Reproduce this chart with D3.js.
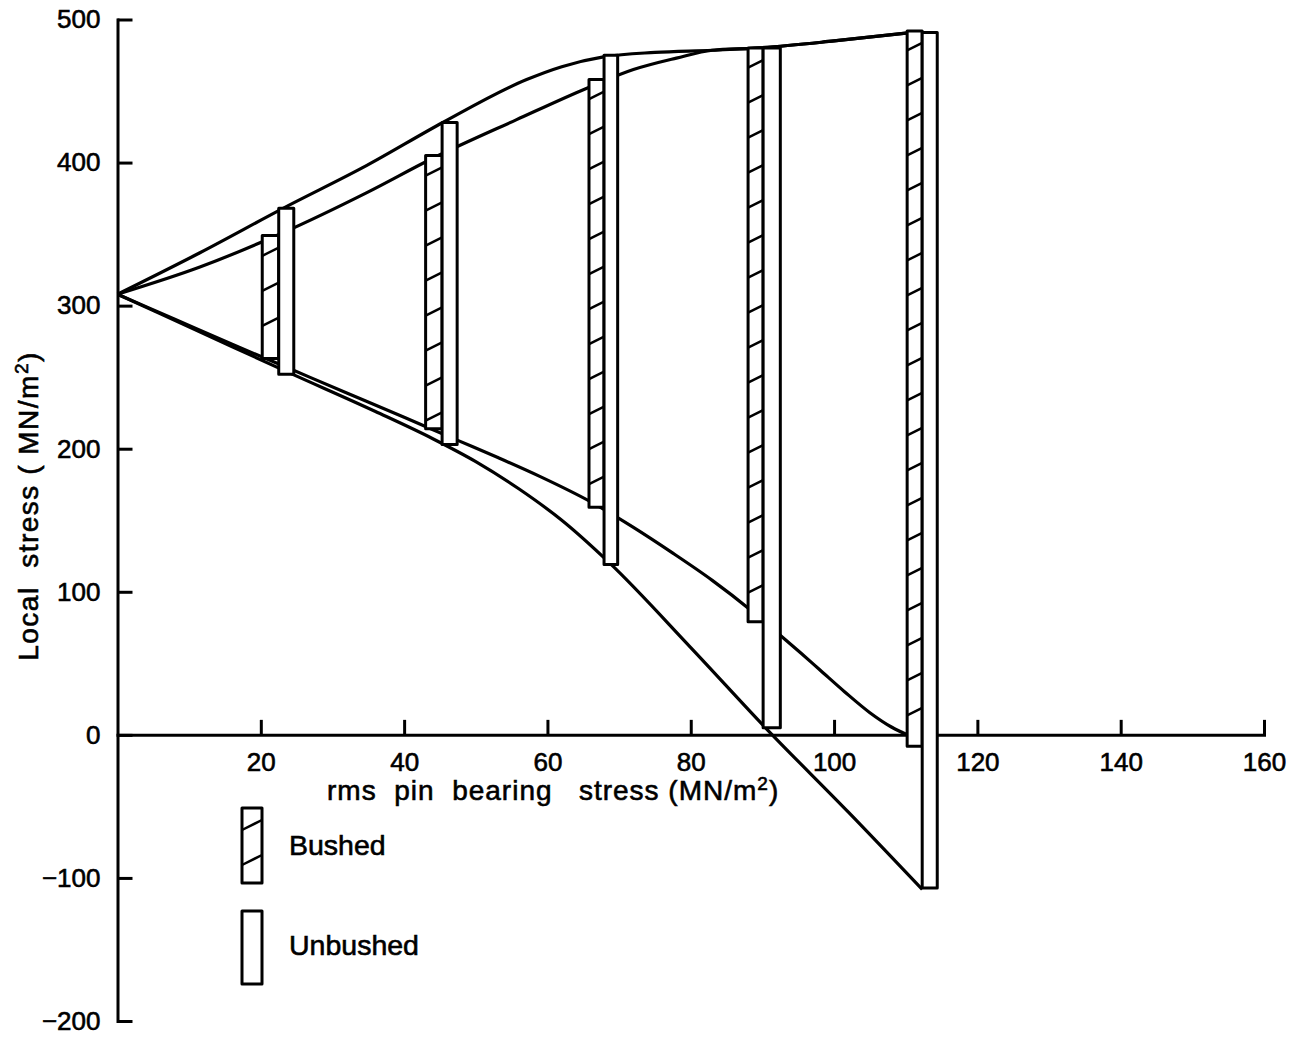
<!DOCTYPE html>
<html>
<head>
<meta charset="utf-8">
<script src="https://cdn.jsdelivr.net/npm/d3@7"></script>
<style>
  body { margin: 0; background: #fff; }
  svg { display: block; font-family: "Liberation Sans", Arial, sans-serif; }
  svg text { stroke: #000; stroke-width: 0.6; }
  .axis path, .axis line { stroke: #000; stroke-width: 3; }
  .axis text { font-size: 26px; fill: #000; }
</style>
</head>
<body>
<svg width="1299" height="1042"></svg>
<script>
// tick values
const xTicks = [20, 40, 60, 80, 100, 120, 140, 160];
const yTicks = [-200, -100, 0, 100, 200, 300, 400, 500];

// scatter bands: [x0, x1, low, high]
const bushed = [
    [20.2, 22.5, 263, 349],
    [43.0, 45.3, 214, 405],
    [65.8, 67.9, 159, 458],
    [88.0, 90.1, 79, 480],
    [110.2, 112.3, -8, 492]
];
const unbushed = [
    [22.5, 24.6, 252, 368],
    [45.3, 47.4, 203, 428],
    [67.9, 69.8, 119, 475],
    [90.1, 92.5, 5, 480],
    [112.3, 114.4, -107, 491]
];

// envelope curves [rms stress, local stress]
const unbushedMax = [[0, 308], [11.5, 337], [23.1, 368], [34.8, 398], [45.4, 428], [57.1, 458], [62, 467], [68, 474], [75, 477], [83, 478.5], [89, 480], [100, 485], [111, 491]];
const bushedMax = [[0, 308], [11.5, 327], [23.1, 351], [34.8, 379], [44, 403], [55.7, 430], [65.5, 452], [72, 465], [78, 473], [83, 478.5], [89, 480], [100, 485], [111, 491]];
const bushedMin = [[0, 308], [8, 290.5], [16, 273], [24, 256], [32, 239], [40, 222], [47.4, 206], [53, 194], [59, 180.5], [66, 163], [72, 145], [77.5, 127], [83, 108], [88.3, 87.5], [92.4, 70], [95.4, 57], [98, 45.5], [101.5, 30], [105, 15.5], [108, 5.5], [110.7, -1]];
const unbushedMin = [[0, 308], [12, 280.5], [24, 253], [36, 226], [44, 207], [50, 191], [56, 172], [62, 150], [68.7, 120], [80, 61], [90.8, 3], [102, -54], [112.3, -108]];

const svg = d3.select("svg");

const x = d3.scaleLinear().domain([0, 160]).range([117.5, 1264]);
const y = d3.scaleLinear().domain([-200, 500]).range([1021, 19.5]);

// axes
svg.append("g")
    .attr("class", "axis")
    .attr("transform", `translate(0,${y(0)})`)
    .call(d3.axisBottom(x).tickValues(xTicks).tickSize(-15).tickSizeOuter(0).tickPadding(18));

svg.append("g")
    .attr("class", "axis")
    .attr("transform", `translate(${x(0)},0)`)
    .call(d3.axisLeft(y).tickValues(yTicks).tickSize(-15).tickSizeOuter(0).tickPadding(17));

svg.selectAll(".axis .domain").attr("stroke-linecap", "square");

// axis titles
svg.append("text")
    .attr("x", 327)
    .attr("y", 800)
    .attr("font-size", 28)
    .attr("letter-spacing", 1)
    .style("white-space", "pre")
    .html('rms  pin  bearing   stress (MN/m<tspan dy="-10" font-size="19">2</tspan><tspan dy="10">)</tspan>');

svg.append("text")
    .attr("transform", "translate(38,506) rotate(-90)")
    .attr("text-anchor", "middle")
    .attr("font-size", 28)
    .attr("letter-spacing", 1.5)
    .style("white-space", "pre")
    .html('Local  stress ( MN/m<tspan dy="-10" font-size="19">2</tspan><tspan dy="10">)</tspan>');

// curves
const line = d3.line()
    .x(d => x(d[0]))
    .y(d => y(d[1]))
    .curve(d3.curveMonotoneX);

svg.selectAll(".curve")
    .data([unbushedMax, bushedMax, bushedMin, unbushedMin])
    .enter().append("path")
    .attr("class", "curve")
    .attr("d", line)
    .attr("fill", "none")
    .attr("stroke", "#000")
    .attr("stroke-width", 3.2);

// draws a band, with hatching for bushed
function drawBand(g, x0, x1, y0, y1, hatched) {
    g.append("rect")
        .attr("x", x0).attr("y", y0)
        .attr("width", x1 - x0).attr("height", y1 - y0)
        .attr("fill", "#fff")
        .attr("stroke", "#000")
        .attr("stroke-width", 3)
        .attr("stroke-linejoin", "round");
    if (!hatched) return;
    const w = x1 - x0, rise = w * 0.5, gap = 35;
    for (let yy = y0 + rise + 12; yy < y1 - 6; yy += gap) {
        g.append("line")
            .attr("x1", x0).attr("y1", yy)
            .attr("x2", x1).attr("y2", yy - rise)
            .attr("stroke", "#000")
            .attr("stroke-width", 2.5);
    }
}

const bands = svg.append("g");
bushed.forEach(d => drawBand(bands, x(d[0]), x(d[1]), y(d[3]), y(d[2]), true));
unbushed.forEach(d => drawBand(bands, x(d[0]), x(d[1]), y(d[3]), y(d[2]), false));

// legend
const legend = svg.append("g");
drawBand(legend, 242, 262, 808, 883, true);
drawBand(legend, 242, 262, 911, 984, false);
legend.append("text").attr("x", 289).attr("y", 855).attr("font-size", 28.5).text("Bushed");
legend.append("text").attr("x", 289).attr("y", 955).attr("font-size", 28.5).text("Unbushed");
</script>
</body>
</html>
